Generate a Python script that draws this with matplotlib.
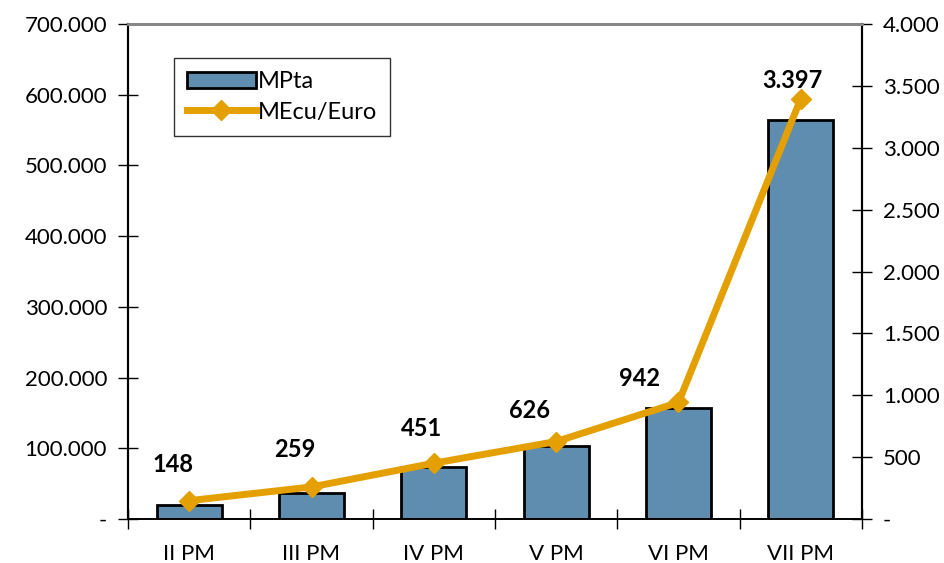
import matplotlib
matplotlib.use("Agg")
import matplotlib.pyplot as plt
from matplotlib.ticker import FuncFormatter, FixedLocator

# --------- DATA ----------
CATEGORIES = ["II PM", "III PM", "IV PM", "V PM", "VI PM", "VII PM"]
MPTA = [19900, 36300, 73900, 103500, 156500, 564500]
MECU_EURO = [148, 259, 451, 626, 942, 3397]
# label offsets in points (dx, dy) relative to each line point
LABEL_OFFSETS = [(-12, 26), (-12, 27), (-9, 25), (-19, 22), (-28, 17), (-6, 13)]
# -------------------------

BAR_COLOR = "#5f8db0"
LINE_COLOR = "#e3a000"

plt.rcParams['font.family'] = ['Lato', 'DejaVu Sans']


def thousands(v, pos=None):
    # spanish style: dot as thousands separator, zero shown as "-"
    if abs(v) < 1e-9:
        return "-"
    return f"{int(round(v)):,}".replace(",", ".")


fig = plt.figure(figsize=(9.45, 5.63), dpi=100)
ax = fig.add_axes([128 / 945, 44 / 563, (862 - 128) / 945, (519 - 24) / 563])
ax2 = ax.twinx()

x = list(range(len(CATEGORIES)))
bars = ax.bar(x, MPTA, width=0.53, color=BAR_COLOR, edgecolor="black",
              linewidth=2, label="MPta", zorder=2)
line, = ax2.plot(x, MECU_EURO, color=LINE_COLOR, linewidth=5, marker="D",
                 markersize=10, label="MEcu/Euro", zorder=3)

ax.set_xlim(-0.5, len(CATEGORIES) - 0.5)
ax.set_ylim(0, 700000)
ax2.set_ylim(0, 4000)
ax.set_yticks(range(0, 700001, 100000))
ax2.set_yticks(range(0, 4001, 500))
ax.yaxis.set_major_formatter(FuncFormatter(thousands))
ax2.yaxis.set_major_formatter(FuncFormatter(thousands))

ax.set_xticks(x)
ax.set_xticklabels(CATEGORIES)
ax.xaxis.set_minor_locator(FixedLocator([i - 0.5 for i in range(len(CATEGORIES) + 1)]))
ax.tick_params(axis="x", which="major", length=0, pad=18, labelsize=16)
ax.tick_params(axis="x", which="minor", direction="inout", length=14, width=1)
ax.tick_params(axis="y", direction="inout", length=14, width=1, labelsize=16, pad=8)
ax2.tick_params(axis="y", direction="inout", length=14, width=1, labelsize=16, pad=8)

for a in (ax, ax2):
    a.spines["left"].set_linewidth(1.5)
    a.spines["right"].set_linewidth(1.5)
    a.spines["bottom"].set_linewidth(1.2)
    a.spines["top"].set_color("#888888")
    a.spines["top"].set_linewidth(2)

for xi, v, (dx, dy) in zip(x, MECU_EURO, LABEL_OFFSETS):
    ax2.annotate(thousands(v), (xi, v), xytext=(dx, dy), textcoords="offset points",
                 ha="center", va="center", fontsize=17, fontweight="bold")

leg = ax.legend([bars, line], ["MPta", "MEcu/Euro"], loc="upper left",
                bbox_to_anchor=(0.063, 0.931), borderaxespad=0, fontsize=17,
                fancybox=False, edgecolor="#333333", framealpha=1,
                handlelength=2.9, handletextpad=0.1, borderpad=0.55,
                labelspacing=0.4)
leg.get_frame().set_linewidth(1)
leg.set_zorder(5)

fig.savefig("out.png", dpi=100)
